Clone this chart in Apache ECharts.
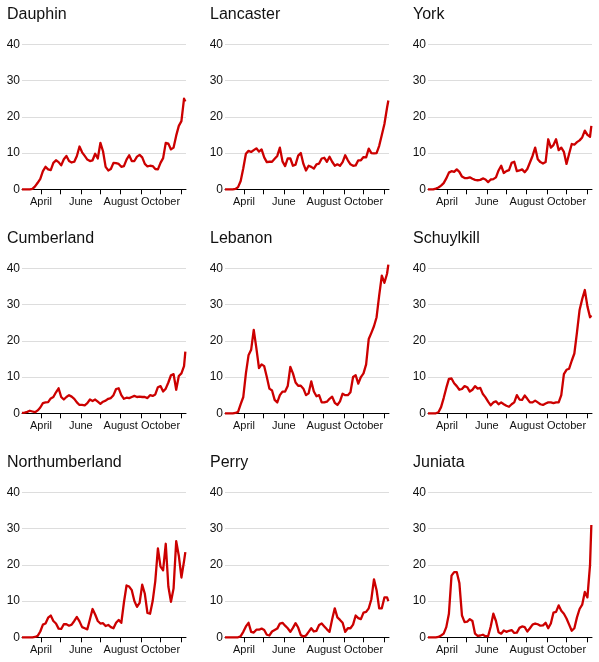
<!DOCTYPE html>
<html>
<head>
<meta charset="utf-8">
<script src="https://cdn.jsdelivr.net/npm/echarts@6/dist/echarts.min.js"></script>
<style>
html,body{margin:0;padding:0;background:#fff;}
#chart{width:599px;height:662px;}
</style>
</head>
<body>
<div id="chart"></div>
<script>
// ---- data ----
const dates = ['2020-03-03','2020-03-07','2020-03-11','2020-03-15','2020-03-19','2020-03-23','2020-03-27','2020-03-31',
'2020-04-04','2020-04-08','2020-04-12','2020-04-16','2020-04-20','2020-04-24','2020-04-28','2020-05-02',
'2020-05-06','2020-05-10','2020-05-14','2020-05-18','2020-05-22','2020-05-26','2020-05-30','2020-06-03',
'2020-06-07','2020-06-11','2020-06-15','2020-06-19','2020-06-23','2020-06-27','2020-07-01','2020-07-05',
'2020-07-09','2020-07-13','2020-07-17','2020-07-21','2020-07-25','2020-07-29','2020-08-02','2020-08-06',
'2020-08-10','2020-08-14','2020-08-18','2020-08-22','2020-08-26','2020-08-30','2020-09-03','2020-09-07',
'2020-09-11','2020-09-15','2020-09-19','2020-09-23','2020-09-27','2020-10-01','2020-10-05','2020-10-09',
'2020-10-13','2020-10-17','2020-10-21','2020-10-25','2020-10-29','2020-11-02','2020-11-06','2020-11-08'];

const tickDates = ['2020-04-01','2020-05-01','2020-06-01','2020-07-01','2020-08-01','2020-09-01','2020-10-01','2020-11-01'];
const labelDates = ['2020-04-01','2020-06-01','2020-08-01','2020-10-01'];
const monthNames = ['January','February','March','April','May','June','July','August','September','October','November','December'];
const axisStart = '2020-03-03';
const axisEnd = '2020-11-09';

const counties = ['Dauphin','Lancaster','York','Cumberland','Lebanon','Schuylkill','Northumberland','Perry','Juniata'];

const dauphin = [0,0,0,0,0.1,0.8,1.8,2.9,5.0,6.2,5.5,5.3,7.3,8.0,7.5,6.6,8.3,9.2,7.8,7.4,7.6,9.2,11.8,10.2,9.2,8.2,7.8,8.0,9.8,8.5,12.8,10.5,6.2,5.2,5.6,7.3,7.2,7.0,6.2,6.4,8.2,9.4,7.8,7.8,9.0,9.5,8.8,7.0,6.3,6.5,6.4,5.6,5.5,7.3,8.6,12.8,12.6,11.0,11.5,14.8,17.5,18.8,25.0,24.2];
const lancaster = [0,0,0,0,0.1,0.6,2.3,5.8,9.8,10.6,10.3,10.8,11.3,10.4,11.0,8.8,7.5,7.6,7.6,8.4,9.2,11.5,7.7,6.4,8.5,8.5,6.5,6.8,9.3,10.0,7.0,5.2,6.5,6.2,5.7,6.9,7.1,8.5,8.7,7.6,9.0,7.6,6.5,6.9,6.5,7.5,9.4,8.0,6.9,6.5,6.6,8.0,8.0,8.9,8.8,11.2,10.0,9.9,10.0,12.0,15.0,18.0,22.5,24.5];
const york = [0,0,0,0.2,0.5,1.0,1.7,3.0,4.6,5.0,4.8,5.5,4.8,3.5,3.1,3.1,3.3,2.9,2.6,2.5,2.6,3.0,2.7,2.0,2.7,2.8,3.3,5.2,6.5,4.5,5.0,5.3,7.3,7.6,5.0,5.2,5.5,4.7,5.6,7.4,9.2,11.5,8.3,7.5,7.1,7.5,13.8,11.5,12.2,13.8,10.8,11.5,10.3,7.0,9.8,12.5,12.3,13.0,13.5,14.3,16.2,15.0,14.5,17.5];
const cumberland = [0.1,0.2,0.4,0.7,0.5,0.3,0.8,1.6,2.8,3.0,3.1,4.1,4.5,5.8,6.9,4.5,3.8,4.5,5.0,4.6,4.0,3.0,2.3,2.3,2.2,2.8,3.8,3.4,3.8,3.2,2.6,3.2,3.5,4.0,4.2,5.0,6.7,6.9,5.0,4.0,4.3,4.2,4.5,4.8,4.5,4.6,4.5,4.5,4.2,5.0,4.8,5.2,7.2,7.5,6.0,6.8,8.5,10.5,10.8,6.5,10.3,11.0,13.0,17.0];
const lebanon = [0,0,0,0,0.1,0.4,2.5,4.5,11.0,16.0,17.5,23.0,18.0,12.5,13.5,13.0,10.0,6.8,6.3,3.7,3.0,5.0,6.0,6.0,7.5,12.8,11.0,8.5,7.6,7.6,6.8,5.0,5.5,8.8,6.0,4.7,5.0,3.0,3.0,3.2,4.0,4.6,2.9,2.3,3.3,5.4,5.0,5.0,5.8,10.0,10.5,8.2,10.0,11.0,13.5,20.5,22.2,24.0,26.5,32.5,38.0,36.0,38.5,41.0];
const schuylkill = [0,0,0,0,0.3,1.7,4.2,7.0,9.5,9.6,8.3,7.5,6.5,6.7,7.5,7.2,6.0,6.5,7.5,6.8,7.0,5.3,4.4,3.2,2.2,3.0,3.3,2.5,3.0,2.5,2.1,1.8,2.5,3.0,5.0,3.8,3.7,4.9,4.0,3.0,3.0,3.5,3.0,2.5,2.3,2.7,3.0,3.0,2.8,3.0,3.0,5.0,10.8,12.0,12.3,14.5,16.5,22.3,28.5,31.5,34.0,29.5,26.5,27.0];
const northumberland = [0,0,0,0,0,0.1,0.4,1.6,3.5,3.8,5.4,6.0,4.5,3.8,2.4,2.3,3.6,3.6,3.2,3.5,4.5,5.6,4.4,2.8,2.5,2.2,5.0,7.8,6.3,4.5,3.8,3.9,3.1,3.4,2.8,2.5,4.0,4.8,4.0,9.6,14.3,14.0,13.0,10.0,8.4,9.5,14.5,12.0,6.7,6.5,10.0,15.5,24.5,19.5,18.5,25.8,14.0,9.8,13.5,26.5,22.5,16.5,21.0,23.5];
const perry = [0,0,0,0,0,0,0.3,1.5,3.0,4.0,1.5,1.3,2.1,2.1,2.4,2.0,0.7,0.5,1.6,2.0,2.4,3.8,4.0,3.2,2.5,1.5,2.6,3.9,2.7,0.6,0.2,0.5,1.5,2.5,1.6,1.8,3.4,3.8,3.0,2.2,1.5,5.0,8.0,5.5,4.8,4.0,1.5,2.5,2.5,3.5,6.0,5.3,5.0,6.8,7.0,8.0,10.5,16.0,13.0,8.0,8.0,11.0,11.0,10.0];
const juniata = [0,0,0,0,0.1,0.5,1.0,2.8,6.5,17.0,18.0,18.0,15.0,6.0,4.2,4.3,5.0,4.5,1.0,0.4,0.5,0.7,0.3,0.3,3.0,6.5,4.5,1.4,1.0,1.9,1.5,1.8,2.0,1.2,1.3,2.6,3.0,2.8,1.6,2.5,3.5,3.8,3.6,3.2,3.3,4.0,2.5,3.8,6.8,7.0,8.8,7.3,6.5,5.2,3.5,1.8,2.5,5.5,7.8,9.0,12.5,11.0,20.0,31.0];

const seriesValues = [dauphin, lancaster, york, cumberland, lebanon, schuylkill, northumberland, perry, juniata];

// ---- build chart ----
function utc(s) {
  const p = s.split('-').map(Number);
  return Date.UTC(p[0], p[1] - 1, p[2]);
}

const FONT = '"Liberation Sans", Arial, Helvetica, sans-serif';
const lineColor = '#cc0000';

const titles = [], grids = [], xAxes = [], yAxes = [], series = [];
counties.forEach((name, i) => {
  const r = Math.floor(i / 3), c = i % 3;
  const left = 22 + 203 * c;
  const top = 44.3 + 224 * r;
  titles.push({
    text: name, left: 7 + 203 * c, top: 7 + 224 * r, padding: 0,
    textStyle: { fontSize: 16, fontWeight: 'normal', color: '#111', fontFamily: FONT }
  });
  grids.push({ left: left, top: top, width: 164, height: 145, containLabel: false });
  xAxes.push({
    type: 'value', gridIndex: i,
    min: utc(axisStart), max: utc(axisEnd),
    splitLine: { show: false },
    axisLine: { show: true, onZero: false, lineStyle: { color: '#000', width: 1 } },
    axisTick: { show: true, length: 5, lineStyle: { color: '#000', width: 1 }, customValues: tickDates.map(utc) },
    axisLabel: {
      show: true, customValues: labelDates.map(utc), margin: 7,
      fontSize: 11, color: '#111', fontFamily: FONT,
      formatter: (v) => monthNames[new Date(v).getUTCMonth()]
    }
  });
  yAxes.push({
    type: 'value', gridIndex: i, min: 0, max: 40, interval: 10,
    axisLine: { show: false }, axisTick: { show: false },
    axisLabel: { show: true, margin: 2, fontSize: 12, color: '#111', fontFamily: FONT },
    splitLine: { show: true, lineStyle: { color: '#dddddd', width: 1 } }
  });
  series.push({
    type: 'line', xAxisIndex: i, yAxisIndex: i,
    data: dates.map((d, j) => [utc(d), seriesValues[i][j]]),
    showSymbol: false, symbol: 'none', clip: false,
    lineStyle: { color: lineColor, width: 2.3, join: 'round' },
    itemStyle: { color: lineColor },
    z: 3
  });
});

const chart = echarts.init(document.getElementById('chart'), null, { renderer: 'canvas' });
chart.setOption({
  animation: false,
  backgroundColor: '#fff',
  textStyle: { fontFamily: FONT },
  title: titles,
  grid: grids,
  xAxis: xAxes,
  yAxis: yAxes,
  series: series
});
</script>
</body>
</html>
